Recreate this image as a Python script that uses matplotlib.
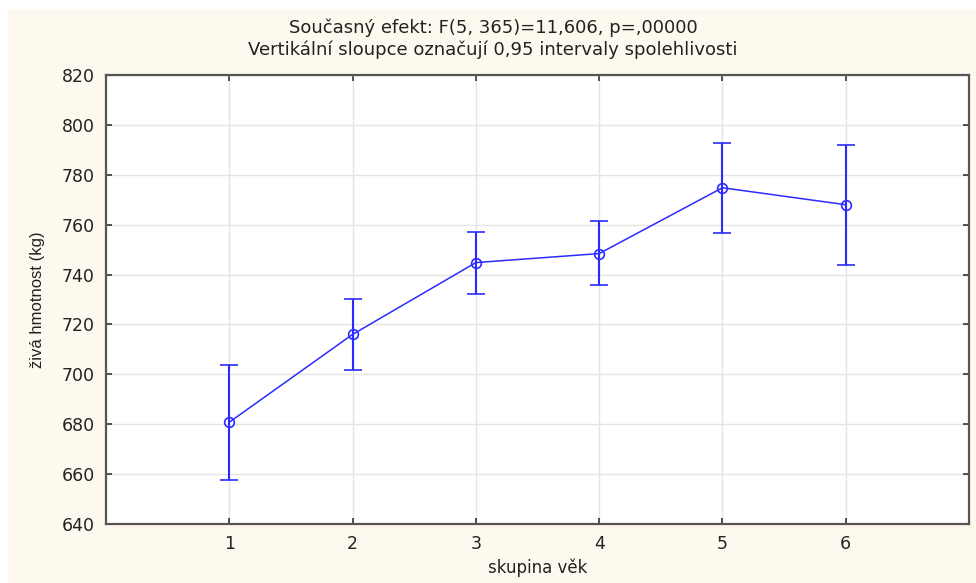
import matplotlib.pyplot as plt
import numpy as np
from matplotlib.patches import Rectangle
from matplotlib.ticker import MultipleLocator

# skupiny a průměry s 0,95 intervaly spolehlivosti
groups = [1, 2, 3, 4, 5, 6]
means = [680.8, 716.0, 744.8, 748.4, 774.8, 768.0]
upper = [703.6, 730.4, 757.2, 761.3, 792.8, 791.9]
lower = [657.6, 701.6, 732.4, 735.7, 756.7, 744.0]

title1 = 'Současný efekt: F(5, 365)=11,606, p=,00000'
title2 = 'Vertikální sloupce označují 0,95 intervaly spolehlivosti'

cream = '#fef9ee'
blue = '#2b2bff'

fig = plt.figure(figsize=(9.76, 5.83), dpi=100, facecolor='white')
# krémové pozadí s bílým okrajem nahoře a vlevo
fig.add_artist(Rectangle((8 / 976, 0), 1, 1 - 9 / 583, transform=fig.transFigure,
                         facecolor=cream, edgecolor='none', zorder=-10))

ax = fig.add_axes([106 / 976, 1 - 524 / 583, (969 - 106) / 976, (524 - 75) / 583])
ax.set_facecolor('white')

m = np.array(means)
yerr = [m - np.array(lower), np.array(upper) - m]
ax.errorbar(groups, means, yerr=yerr, color=blue, lw=1.1, elinewidth=1.5,
            capsize=6.5, capthick=1.5, marker='o', markersize=7,
            markerfacecolor='none', markeredgecolor=blue, markeredgewidth=1.2, zorder=3)

ax.set_xlim(0, 7)
ax.set_ylim(640, 820)
ax.set_xticks(groups)
ax.yaxis.set_major_locator(MultipleLocator(20))
ax.grid(True, color='#e4e4e4', lw=1)
ax.set_axisbelow(True)
ax.tick_params(direction='in', length=4, width=1.2, color='#333333',
               top=True, right=True, labelsize=12.5, pad=8)
for t in ax.get_xticklabels() + ax.get_yticklabels():
    t.set_family('DejaVu Sans')
    t.set_color('#222222')
for s in ax.spines.values():
    s.set_color('#555555')
    s.set_linewidth(1.6)

ax.set_xlabel('skupina věk', fontsize=12, family='DejaVu Sans', color='#222222', labelpad=4)
fig.text(38 / 976, 1 - 300 / 583, 'živá hmotnost (kg)', rotation=90, ha='center', va='center',
         fontsize=12, family=['Liberation Sans Narrow', 'Liberation Sans'], color='#222222')

fig.text(0.505, 1 - 28 / 583, title1, ha='center', va='center', fontsize=13,
         family='DejaVu Sans', color='#222222')
fig.text(0.505, 1 - 50 / 583, title2, ha='center', va='center', fontsize=13,
         family='DejaVu Sans', color='#222222')

fig.savefig('out.png', dpi=100, facecolor=fig.get_facecolor())
